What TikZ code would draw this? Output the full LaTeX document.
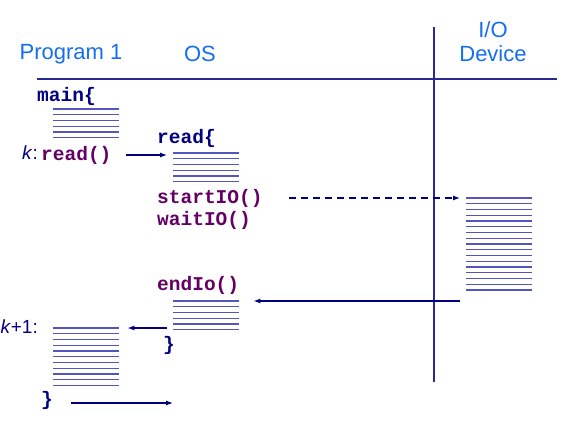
\documentclass[tikz,border=0pt]{standalone}
\usepackage{fontspec}
\setmainfont{Liberation Sans}
\setmonofont{Liberation Mono}
\usetikzlibrary{arrows.meta}

\definecolor{headblue}{RGB}{20,110,240}
\definecolor{codenavy}{RGB}{0,0,128}
\definecolor{codepurple}{RGB}{100,0,100}
\definecolor{rulenavy}{RGB}{40,40,150}
\definecolor{stripeblue}{RGB}{85,85,190}

\tikzset{
  head/.style={text=headblue, font=\fontsize{22}{24}\selectfont, align=center},
  code/.style={anchor=west, inner sep=0pt, font=\fontsize{19.5}{22}\selectfont\ttfamily\bfseries},
  lbl/.style={anchor=east, inner sep=0pt, text=codenavy, font=\fontsize{19}{22}\selectfont},
  stripe/.style={stripeblue, line width=1.3pt},
  arr/.style={-{Latex[length=7pt,width=5pt]}, codenavy, line width=1.1pt},
}

% block of code lines: name, left x, top y, number of lines
\newcommand{\stripeblock}[4]{%
  \node[inner sep=0pt, minimum width=66pt, minimum height={(#4-1)*5.75pt}, anchor=north west] (#1) at (#2,#3) {};
  \foreach \i in {1,...,#4}
    \draw[stripe] (#2,{#3+(\i-1)*5.75}) -- ++(66,0);
}

\begin{document}
\begin{tikzpicture}[x=1pt, y=-1pt]
\useasboundingbox (0,0) rectangle (563,439);

% Column heads
\node[head] (prog) at (71,54) {Program 1};
\node[head] (os) at (200,54) {OS};
\node[head] (io) at (493,42) {I/O\\Device};

% Rules
\draw[rulenavy, line width=1.8pt] (37,79) -- (557,79);
\draw[rulenavy, line width=1.8pt] (434,27) -- (434,382);

% Program 1
\node[code, text=codenavy] (main) at (37,96) {main\{};
\stripeblock{b1}{53}{109}{6}
\node[lbl] (k) at (38,153) {\textit{k}:};
\node[code, text=codepurple] (kread) at (41,155) {read()};

% OS: read
\node[code, text=codenavy] (osread) at (157,138) {read\{};
\stripeblock{b2}{173}{153}{6}
\node[code, text=codepurple] (startio) at (157,198) {startIO()};
\node[code, text=codepurple] (waitio) at (157,220) {waitIO()};

% I/O device
\stripeblock{dev}{466}{198}{17}

% OS: end of I/O
\node[code, text=codepurple] (endio) at (157,285) {endIo()};
\stripeblock{b3}{173}{301}{6}
\node[code, text=codenavy] (close2) at (163,345) {\}};

% Program 1 resumes
\node[lbl] (k1) at (38,327) {\textit{k}+1:};
\stripeblock{b4}{53}{328}{11}
\node[code, text=codenavy] (close1) at (41,400) {\}};
\coordinate (back) at (173,403);

% Arrows
\draw[arr] ([xshift=14pt]kread.east) -- ([xshift=-6pt]kread.east -| b2.west);
\draw[arr, dash pattern=on 7pt off 5pt] ([xshift=26pt]startio.east) -- ([xshift=-6pt]startio.east -| dev.west);
\draw[arr] ([xshift=-6pt]dev.west |- b3.north) -- ([xshift=14pt]b3.north east);
\draw[arr] ([xshift=-6pt]b3.west |- b4.north) -- ([xshift=8pt]b4.north east);
\draw[arr] ([xshift=18pt]close1.east |- back) -- (back);
\end{tikzpicture}
\end{document}
